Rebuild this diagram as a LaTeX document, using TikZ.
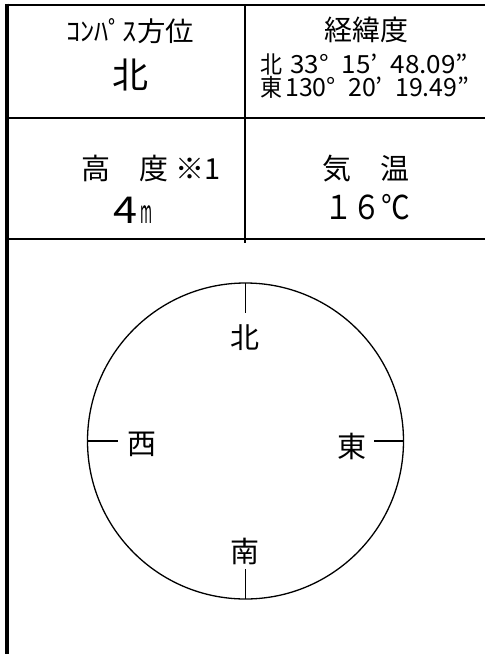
\documentclass[tikz,border=0pt]{standalone}
\usepackage{fontspec}
\setmainfont{Noto Sans CJK JP}
\usepackage{graphicx}
\newcommand{\narrow}[2]{\resizebox{#1}{\height}{#2}}
\newcommand{\fsz}[1]{\fontsize{#1}{#1}\selectfont}
\newcommand{\gap}{\hspace{0.5em}}

\begin{document}
\begin{tikzpicture}[x=1pt,y=-1pt,
    frame/.style={line width=1.5pt},
    cell/.style={inner sep=0pt, anchor=center},
    coordline/.style={inner sep=0pt, anchor=west},
    dirlabel/.style={inner sep=0pt, font=\fsz{29}}]
    \useasboundingbox (0,0) rectangle (485,654);

    % table lines
    \draw[line width=3.5pt] (7,3.5) -- (7,654);
    \draw[line width=2pt] (5.25,5) -- (485,5);
    \draw[frame] (7,118) -- (485,118);
    \draw[frame] (7,239) -- (485,239);
    \draw[frame] (245,5) -- (245,243);

    % first row
    \node[cell] (comphead) at (130,31) {\fsz{27}\narrow{128pt}{ｺﾝﾊﾟｽ方位}};
    \node[cell] (compval) at (130,75) {\fsz{36}北};
    \node[cell] (posthead) at (366,30) {\fsz{28}経緯度};
    \node[coordline] (lat) at (260,64.5) {\narrow{22pt}{\fsz{24}北}\hspace{8pt}\narrow{178pt}{\fsz{25}33°\gap15’\gap48.09”}};
    \node[coordline] (lon) at (260,87.5) {\narrow{22pt}{\fsz{24}東}\hspace{3pt}\narrow{184pt}{\fsz{25}130°\gap20’\gap19.49”}};

    % second row
    \node[cell] (althead) at (151,168) {\fsz{29}高　度 ※1};
    \node[cell] (altval) at (133,210) {\narrow{24pt}{\fsz{37}4}\hspace{2pt}\narrow{12pt}{\fsz{32}m}};
    \node[cell] (temphead) at (366,169) {\fsz{29}気　温};
    \node[cell] (tempval) at (367,207) {\narrow{86pt}{\fsz{33}１６℃}};

    % compass
    \coordinate (c) at (245.5,441);
    \draw[line width=1.3pt] (c) circle (158);
    \foreach \a in {0,90,180,270} {
        \draw[line width=1.3pt] (c) ++(\a:158) -- ++(\a+180:30);
    }
    \node[dirlabel] (dirN) at (245,338) {北};
    \node[dirlabel] (dirW) at (142,444) {西};
    \node[dirlabel] (dirE) at (352,446) {東};
    \node[dirlabel] (dirS) at (245,551) {南};
\end{tikzpicture}
\end{document}
